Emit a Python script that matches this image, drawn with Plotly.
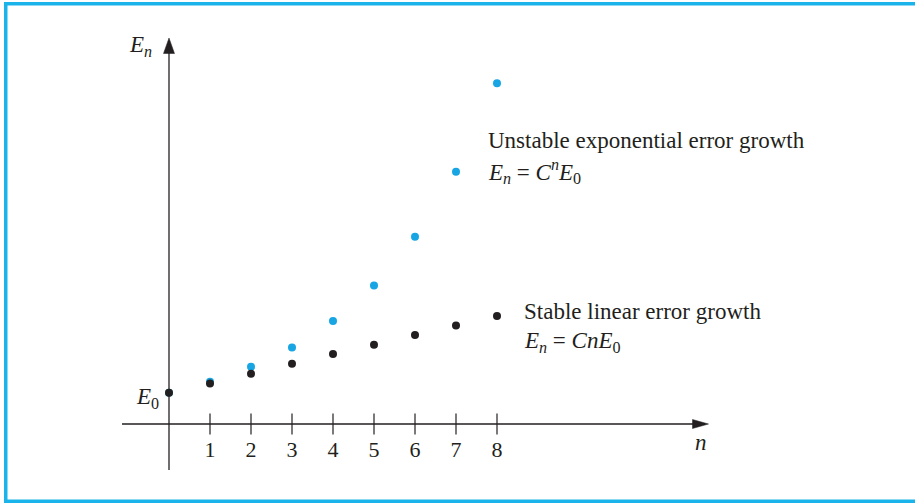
import plotly.graph_objects as go

# ---- data (E0 = 1) ----
n_values = [0, 1, 2, 3, 4, 5, 6, 7, 8]
stable_linear = [1.01, 1.31, 1.62, 1.94, 2.26, 2.56, 2.87, 3.18, 3.48]
unstable_exponential = [1.01, 1.36, 1.85, 2.47, 3.32, 4.47, 6.04, 8.14, 10.99]
tick_values = [1, 2, 3, 4, 5, 6, 7, 8]
tick_labels = ["1", "2", "3", "4", "5", "6", "7", "8"]

# ---- layout geometry ----
W, H = 915, 503
X0PX, XUNIT = 169.0, 41.0     # pixel of n=0 and pixels per unit n
Y0PX, YUNIT = 424.0, 31.0     # pixel of E=0 and pixels per unit E


def dx(px):
    return (px - X0PX) / XUNIT


def dy(py):
    return (Y0PX - py) / YUNIT


INK = "#231f20"
BLUE = "#17a6e3"
FRAME = "#1ab4eb"
FONT = "Liberation Serif, Times New Roman, serif"

fig = go.Figure()

# tick marks crossing the axis
fig.add_trace(go.Scatter(
    x=tick_values, y=[0] * len(tick_values), mode="markers",
    marker=dict(symbol="line-ns-open", size=15, color=INK, line=dict(color=INK, width=1.2)),
    hoverinfo="skip", showlegend=False))

fig.add_trace(go.Scatter(
    x=n_values, y=unstable_exponential, mode="markers",
    marker=dict(color=BLUE, size=8), showlegend=False, name="unstable"))
fig.add_trace(go.Scatter(
    x=n_values, y=stable_linear, mode="markers",
    marker=dict(color=INK, size=8), showlegend=False, name="stable"))

shapes = [
    # axes
    dict(type="line", xref="x", yref="y", x0=dx(122), x1=dx(700), y0=0, y1=0,
         line=dict(color=INK, width=1.3)),
    dict(type="path", xref="x", yref="y",
         path=f"M {dx(708.5)},0 L {dx(692.5)},{dy(419.5)} L {dx(692.5)},{dy(428.5)} Z",
         fillcolor=INK, line=dict(color=INK, width=0.5)),
    dict(type="line", xref="x", yref="y", x0=0, x1=0, y0=dy(470), y1=dy(50),
         line=dict(color=INK, width=1.3)),
    dict(type="path", xref="x", yref="y",
         path=f"M 0,{dy(38)} L {dx(163.5)},{dy(53.5)} L {dx(174.5)},{dy(53.5)} Z",
         fillcolor=INK, line=dict(color=INK, width=0.5)),
    # frame (left, top, bottom)
    dict(type="rect", xref="paper", yref="paper", x0=4 / W, x1=7.5 / W, y0=0, y1=1 - 2 / H,
         fillcolor=FRAME, line=dict(width=0)),
    dict(type="rect", xref="paper", yref="paper", x0=4 / W, x1=1.01, y0=1 - 5.5 / H, y1=1 - 2 / H,
         fillcolor=FRAME, line=dict(width=0)),
    dict(type="rect", xref="paper", yref="paper", x0=4 / W, x1=1.01, y0=0, y1=3.5 / H,
         fillcolor=FRAME, line=dict(width=0)),
]

TXT = dict(family=FONT, size=23, color=INK)
annotations = [
    dict(x=dx(485.5), y=dy(140), text="Unstable exponential error growth",
         xanchor="left", yanchor="middle", showarrow=False, font=TXT),
    dict(x=dx(485.5), y=dy(171), text="<i>E</i><sub><i>n</i></sub> = <i>C</i><sup><i>n</i></sup><i>E</i><sub>0</sub>",
         xanchor="left", yanchor="middle", showarrow=False, font=TXT),
    dict(x=dx(521.5), y=dy(311), text="Stable linear error growth",
         xanchor="left", yanchor="middle", showarrow=False, font=TXT),
    dict(x=dx(521.5), y=dy(342), text="<i>E</i><sub><i>n</i></sub> = <i>CnE</i><sub>0</sub>",
         xanchor="left", yanchor="middle", showarrow=False, font=TXT),
    dict(x=dx(154), y=dy(46), text="<i>E</i><sub><i>n</i></sub>",
         xanchor="right", yanchor="middle", showarrow=False, font=TXT),
    dict(x=dx(161), y=dy(398), text="<i>E</i><sub>0</sub>",
         xanchor="right", yanchor="middle", showarrow=False, font=TXT),
    dict(x=dx(701), y=dy(442), text="<i>n</i>",
         xanchor="center", yanchor="middle", showarrow=False, font=TXT),
]

fig.update_layout(
    width=W, height=H,
    margin=dict(l=0, r=0, t=0, b=0),
    paper_bgcolor="white", plot_bgcolor="white",
    shapes=shapes, annotations=annotations,
    xaxis=dict(range=[dx(0), dx(W)], showgrid=False, zeroline=False, showline=False,
               anchor="free", position=(H - Y0PX) / H,
               tickvals=tick_values, ticktext=tick_labels, ticks="",
               ticklabelstandoff=10,
               tickfont=dict(family=FONT, size=22, color=INK), fixedrange=True),
    yaxis=dict(range=[dy(H), dy(0)], showgrid=False, zeroline=False, showline=False,
               showticklabels=False, ticks="", fixedrange=True),
)

fig.write_html(
    "out.html",
    config={"displayModeBar": False},
    post_script="document.body.style.margin='0';document.body.style.overflow='hidden';",
)
